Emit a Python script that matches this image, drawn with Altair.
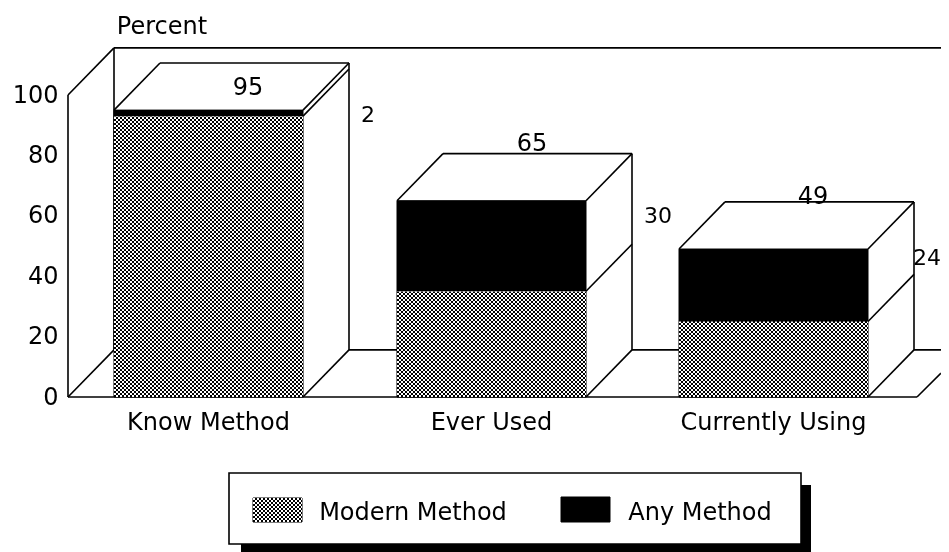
import altair as alt
import pandas as pd

# ---- data ----
categories = ["Know Method", "Ever Used", "Currently Using"]
totals = [95, 65, 49]
any_extra = [2, 30, 24]
modern = [93, 35, 25]
y_ticks = [0, 20, 40, 60, 80, 100]

# ---- layout in x-scale units (1 unit = 1 px) and percent ----
bar_left = [46, 329, 611]
bar_w = 189
depth_x = 46
depth_y = 15.6
total_label_pos = [(180, 102.3), (464, 83.8), (745, 66.2)]
extra_label_pos = [(300, 93.4), (590, 59.9), (859, 46.0)]

FONT = "DejaVu Sans"
FS = 24
NUM_FS = 24
EXTRA_FS = 22
LEFT, BOTTOM = 60, 155
W, H = 873, 389
PX_PER_PCT = 3.02
x_scale = alt.Scale(domain=[0, W], range=[0, W], nice=False, zero=False)
y_scale = alt.Scale(domain=[0, H / PX_PER_PCT], range=[H, 0], nice=False, zero=False)
y_axis = alt.Axis(
    values=y_ticks, domain=False, ticks=False, grid=False, title=None,
    labelFont=FONT, labelFontSize=NUM_FS, labelColor="black", labelPadding=10,
)
X = lambda f: alt.X(f, type="quantitative", scale=x_scale, axis=None)
Y = lambda f: alt.Y(f, type="quantitative", scale=y_scale, axis=y_axis)


def stripes(length, horizontal):
    """Hard-edged 2 px white/black stripes for one rectangle side."""
    stops, n = [], int(length // 2) + 1
    for k in range(n):
        a, b = min(1, k * 2 / length), min(1, (k + 1) * 2 / length)
        c = "#fff" if k % 2 == 0 else "#000"
        stops += [alt.GradientStop(color=c, offset=a), alt.GradientStop(color=c, offset=b)]
    if horizontal:
        return alt.Gradient(gradient="linear", x1=0, y1=1, x2=0, y2=0, stops=stops)
    return alt.Gradient(gradient="linear", x1=0, y1=0, x2=1, y2=0, stops=stops)


# ---- walls and floor ----
top = 100 + depth_y
walls = pd.DataFrame(
    [
        (0, 0, 0, 100),
        (0, depth_x, 100, top),
        (depth_x, W, top, top),
        (depth_x, depth_x, depth_y, top),
        (0, depth_x, 0, depth_y),
        (depth_x, W, depth_y, depth_y),
        (0, 849, 0, 0),
        (849, W, 0, 7.9),
    ],
    columns=["x", "x2", "y", "y2"],
)
rule_style = dict(color="black", strokeWidth=1.6)
wall_layer = (
    alt.Chart(walls)
    .mark_rule(**rule_style)
    .encode(x=X("x"), x2="x2:Q", y=Y("y"), y2="y2:Q")
)

# ---- side faces (white, hide floor line) ----
side_rows, edge_rows = [], []
for left, t, m in zip(bar_left, totals, modern):
    r = left + bar_w
    side_rows += [
        dict(b=left, x=r, y=0, y2=t),
        dict(b=left, x=r + depth_x, y=depth_y, y2=t + depth_y),
    ]
    edge_rows += [
        (left, left + depth_x, t, t + depth_y),
        (left + depth_x, r + depth_x, t + depth_y, t + depth_y),
        (r, r + depth_x, t, t + depth_y),
        (r + depth_x, r + depth_x, depth_y, t + depth_y),
        (r, r + depth_x, 0, depth_y),
        (r, r + depth_x, m, m + depth_y),
    ]
side_layer = (
    alt.Chart(pd.DataFrame(side_rows))
    .mark_area(color="white")
    .encode(x=X("x"), y=Y("y"), y2="y2:Q", detail="b:N")
)
edge_layer = (
    alt.Chart(pd.DataFrame(edge_rows, columns=["x", "x2", "y", "y2"]))
    .mark_rule(**rule_style)
    .encode(x=X("x"), x2="x2:Q", y=Y("y"), y2="y2:Q")
)

# ---- front faces ----
front_layers = []
for left, t, m in zip(bar_left, totals, modern):
    row = pd.DataFrame({"x": [left], "x2": [left + bar_w], "y": [0], "m": [m], "t": [t]})
    enc = dict(x=X("x"), x2="x2:Q")
    front_layers.append(
        alt.Chart(row).mark_rect(color="black", stroke="black", strokeWidth=1).encode(y=Y("y"), y2="t:Q", **enc)
    )
    for horiz in (True, False):
        front_layers.append(
            alt.Chart(row)
            .mark_rect(
                fill=stripes(m * PX_PER_PCT if horiz else bar_w, horiz),
                blend="difference",
            )
            .encode(y=Y("y"), y2="m:Q", **enc)
        )

# ---- value labels ----
text_style = dict(font=FONT, fontSize=FS, color="black", baseline="middle", align="center")
total_labels = pd.DataFrame(
    {
        "text": [str(v) for v in totals],
        "x": [p[0] for p in total_label_pos],
        "y": [p[1] for p in total_label_pos],
    }
)
extra_labels = pd.DataFrame(
    {
        "text": [str(v) for v in any_extra],
        "x": [p[0] for p in extra_label_pos],
        "y": [p[1] for p in extra_label_pos],
    }
)
total_layer = (
    alt.Chart(total_labels)
    .mark_text(**dict(text_style, fontSize=NUM_FS))
    .encode(x=X("x"), y=Y("y"), text="text:N")
)
extra_layer = (
    alt.Chart(extra_labels)
    .mark_text(**dict(text_style, fontSize=EXTRA_FS))
    .encode(x=X("x"), y=Y("y"), text="text:N")
)

cat_df = pd.DataFrame(
    {"c": categories, "x": [left + bar_w / 2 for left in bar_left]}
)
cat_layer = (
    alt.Chart(cat_df)
    .mark_text(**text_style)
    .encode(x=X("x"), y=alt.value(415), text="c:N")
)


# ---- legend and heading, placed in pixels ----
def box(x0, x1, y0, y1, **mark):
    return (
        alt.Chart(pd.DataFrame({"k": [0]}))
        .mark_rect(**mark)
        .encode(
            x=alt.value(x0 - 8 - LEFT), x2=alt.value(x1 - 8 - LEFT),
            y=alt.value(y0 - 8), y2=alt.value(y1 - 8),
        )
    )


def caption(text, cx, cy):
    return (
        alt.Chart(pd.DataFrame({"t": [text]}))
        .mark_text(**text_style)
        .encode(x=alt.value(cx - 8 - LEFT), y=alt.value(cy - 8), text="t:N")
    )


SW = (253, 302, 498, 522)
legend_layers = [
    box(241, 811, 485, 552, color="black"),
    box(229, 801, 473, 544, color="white", stroke="black", strokeWidth=1.6),
    box(*SW, color="black", stroke="black", strokeWidth=1),
    box(*SW, fill=stripes(24, True), blend="difference"),
    box(*SW, fill=stripes(49, False), blend="difference"),
    box(561, 610, 497, 522, color="black", stroke="black", strokeWidth=1),
    caption("Modern Method", 413, 513),
    caption("Any Method", 700, 513),
    caption("Percent", 162, 27),
]

chart = alt.layer(
    wall_layer, side_layer, *front_layers, edge_layer,
    total_layer, extra_layer, cat_layer, *legend_layers
).properties(
    width=W,
    height=H,
    padding={"left": LEFT, "top": 0, "right": 0, "bottom": BOTTOM},
    autosize=alt.AutoSizeParams(type="none"),
    background="white",
).configure_view(stroke=None)

chart.save("out.html", embed_options={"renderer": "svg", "actions": False})
